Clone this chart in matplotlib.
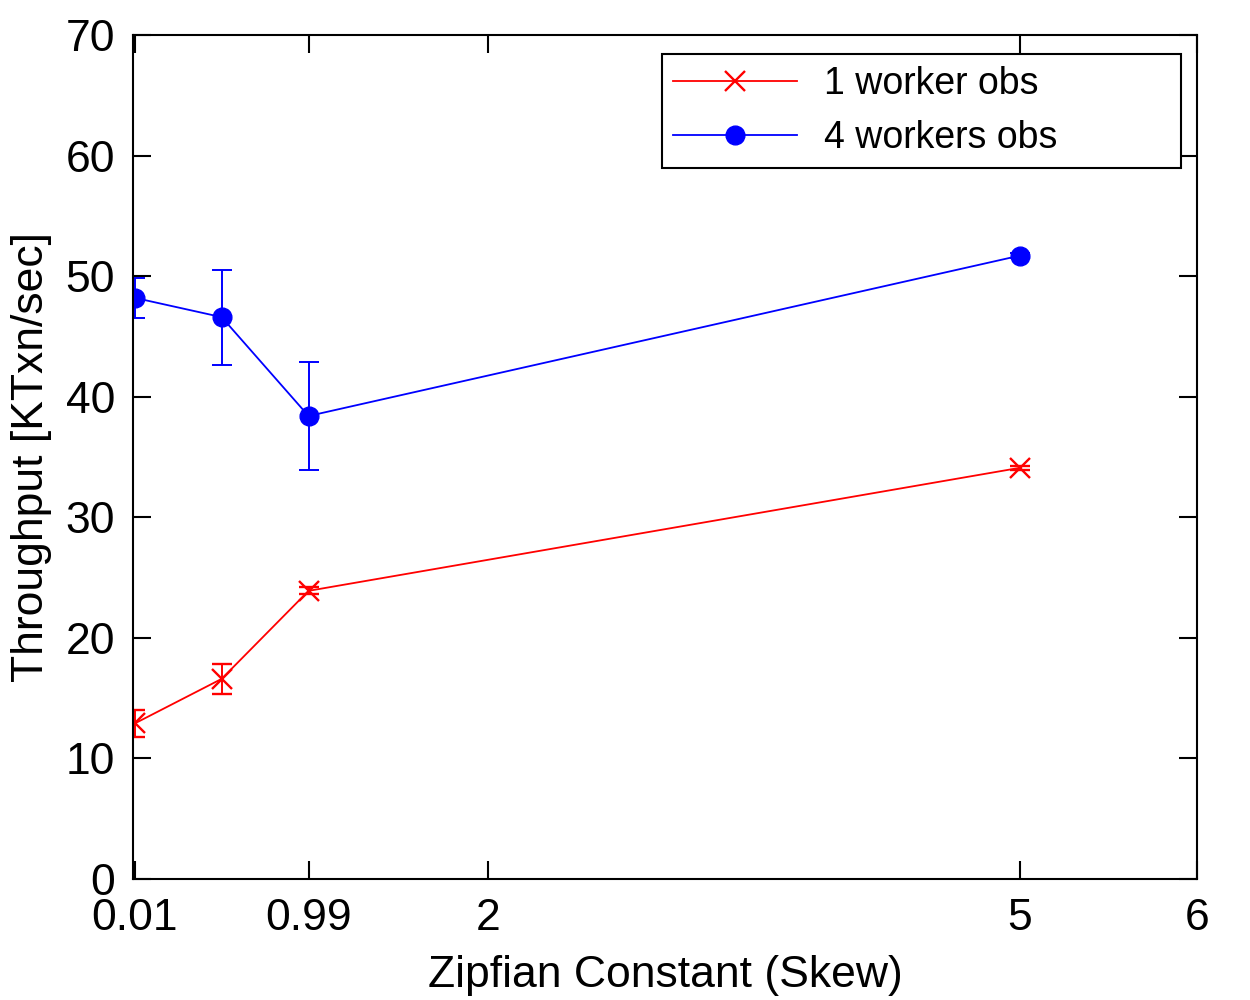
import matplotlib
matplotlib.use('Agg')
import matplotlib.pyplot as plt
from matplotlib import rcParams

fontsize = 32
linewidth = 1.5

rcParams['font.family'] = ['Liberation Sans', 'DejaVu Sans']
rcParams['font.size'] = fontsize
rcParams['axes.linewidth'] = linewidth

# data
skew = [0.01, 0.5, 0.99, 5]
w1_mean = [12.9, 16.6, 23.9, 34.1]
w1_err = [1.1, 1.25, 0.3, 0.15]
w4_mean = [48.2, 46.6, 38.4, 51.7]
w4_err = [1.65, 3.95, 4.5, 0.2]

xticks = [0.01, 0.99, 2, 5, 6]
xticklabels = ['0.01', '0.99', '2', '5', '6']
yticks = [0, 10, 20, 30, 40, 50, 60, 70]

fig = plt.figure(figsize=(12.5, 10), dpi=100)
ax = fig.add_axes([133 / 1250, 1 - 879 / 1000, 1064 / 1250, 844 / 1000])

ax.errorbar(skew, w1_mean, yerr=w1_err, color='red', lw=1.3, marker='x',
            ms=14, mew=1.7, capsize=7, capthick=1.4, elinewidth=1.4,
            label='1 worker obs')
ax.errorbar(skew, w4_mean, yerr=w4_err, color='blue', lw=1.3, marker='o',
            ms=13.5, capsize=7, capthick=1.4, elinewidth=1.4,
            label='4 workers obs')

ax.set_xlim(0, 6)
ax.set_ylim(0, 70)
ax.set_xticks(xticks)
ax.set_xticklabels(xticklabels)
ax.set_yticks(yticks)
ax.tick_params(axis='both', direction='in', length=13, width=1.5,
               top=True, right=True)
ax.tick_params(axis='x', pad=14)
ax.tick_params(axis='y', pad=13)

ax.set_xlabel('Zipfian Constant (Skew)', labelpad=11)
ax.set_ylabel('Throughput [KTxn/sec]', labelpad=10)

handles, labels = ax.get_legend_handles_labels()
handles = [h[0] for h in handles]
leg = ax.legend(handles, labels, loc='upper left',
                bbox_to_anchor=(0.497, 0.846, 0.488, 0.131), mode='expand',
                fontsize=27, handlelength=3.3, handletextpad=0.72,
                borderpad=0.3, labelspacing=0.5, fancybox=False,
                framealpha=1, borderaxespad=0)
leg.get_frame().set_edgecolor('black')
leg.get_frame().set_linewidth(1.5)

fig.savefig('out.png', dpi=100)
